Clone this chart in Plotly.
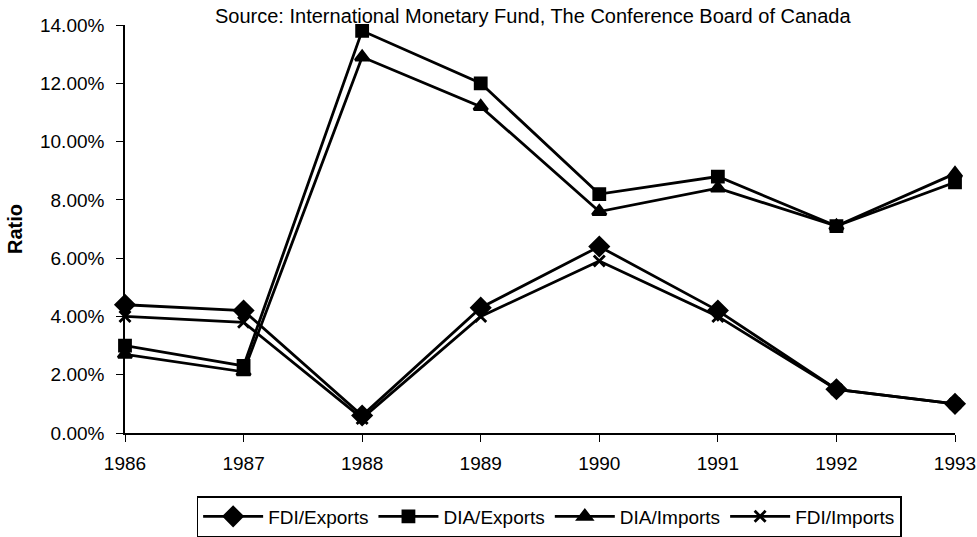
import plotly.graph_objects as go

years = [1986, 1987, 1988, 1989, 1990, 1991, 1992, 1993]
fdi_exports = [0.044, 0.042, 0.006, 0.043, 0.064, 0.042, 0.015, 0.010]
dia_exports = [0.030, 0.023, 0.138, 0.120, 0.082, 0.088, 0.071, 0.086]
dia_imports = [0.027, 0.021, 0.129, 0.112, 0.076, 0.084, 0.071, 0.089]
fdi_imports = [0.040, 0.038, 0.005, 0.040, 0.059, 0.040, 0.015, 0.010]

series = [
    ("FDI/Exports", fdi_exports, "diamond", 14),
    ("DIA/Exports", dia_exports, "square", 11),
    ("DIA/Imports", dia_imports, "triangle-up", 12),
    ("FDI/Imports", fdi_imports, "x-thin", 11),
]

fig = go.Figure()
for name, vals, sym, size in series:
    fig.add_trace(go.Scatter(
        x=years, y=vals, name=name, mode="lines+markers",
        line=dict(color="black", width=2.8),
        marker=dict(symbol=sym, size=size, color="black",
                    line=dict(color="black", width=2.8)),
        cliponaxis=False,
    ))

fig.update_layout(
    width=977, height=537,
    margin=dict(l=125, r=22, t=25, b=104),
    paper_bgcolor="white", plot_bgcolor="white",
    font=dict(family="Liberation Sans, Arial, sans-serif", size=19, color="black"),
    showlegend=True,
    legend=dict(orientation="h", x=0.511, xanchor="center",
                yref="container", y=1 - 496 / 537, yanchor="top",
                bordercolor="black", borderwidth=1.5, font=dict(size=19),
                itemwidth=60, tracegroupgap=0),
    xaxis=dict(range=[1986, 1993], tickmode="array", tickvals=years,
               showgrid=False, zeroline=False, showline=True, linecolor="black",
               linewidth=1.5, ticks="outside", ticklen=7, tickcolor="black",
               ticklabelstandoff=5, automargin=False,
               tickfont=dict(size=19)),
    yaxis=dict(range=[0, 0.14], dtick=0.02, tickformat=".2%",
               showgrid=False, zeroline=False, showline=True, linecolor="black",
               linewidth=1.5, ticks="outside", ticklen=7, tickcolor="black",
               ticklabelstandoff=8, automargin=False,
               tickfont=dict(size=19),
               title=dict(text="<b>Ratio</b>", font=dict(size=20), standoff=12)),
    annotations=[dict(text="Source: International Monetary Fund, The Conference Board of Canada",
                      xref="paper", yref="paper", x=(533 - 125) / 830,
                      y=1.022, xanchor="center",
                      yanchor="middle", showarrow=False, font=dict(size=20))],
)

fig.write_html("out.html", config={"displayModeBar": False},
               post_script="document.body.style.margin='0';")
